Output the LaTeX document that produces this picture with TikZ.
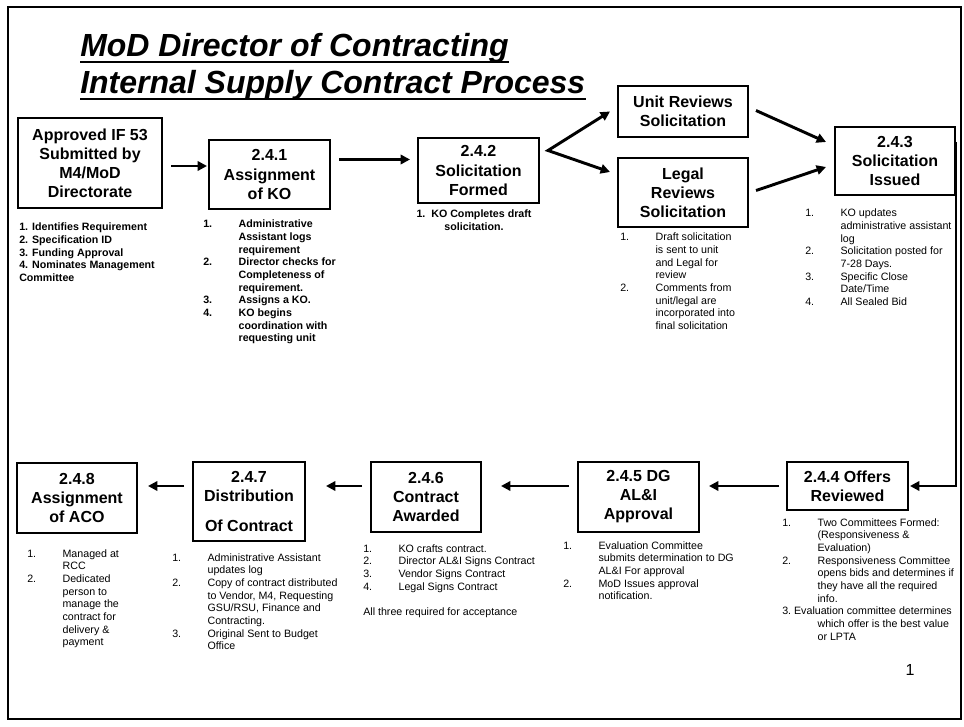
\documentclass[tikz,border=0pt]{standalone}
\usepackage{fontspec}
\setmainfont{Liberation Sans}
\usetikzlibrary{positioning,arrows.meta,calc}
\newenvironment{steplist}{\begin{tabular}[t]{@{}p{26.5pt}@{}l@{}}}{\end{tabular}}
\tikzset{
  boxsize/.style 2 args={minimum width=#1*0.75pt, minimum height=#2*0.75pt},
  stepbox/.style={
    draw, line width=1.5pt, fill=white, align=center, inner sep=0pt,
    font=\fontsize{12}{14.3}\selectfont\bfseries
  },
  lst/.style={anchor=base west, inner sep=0pt, font=\fontsize{8}{9.5}\selectfont},
  lstb/.style={lst, font=\fontsize{8}{9.5}\selectfont\bfseries},
  titletext/.style={anchor=base west, inner sep=0pt, font=\fontsize{24}{30}\selectfont\bfseries\itshape},
  ar/.style={-{Triangle[length=7pt,width=7pt]}, line width=2.2pt},
  twin/.style={ar, {Triangle[length=7pt,width=7pt]}-{Triangle[length=7pt,width=7pt]}},
  slideframe/.style={line width=1.5pt},
}

\begin{document}
\begin{tikzpicture}[x=0.75pt, y=-0.75pt]

  \fill[white] (0,0) rectangle (964,727);
  \useasboundingbox (0,0) rectangle (964,727);
  \draw[slideframe] (8,7) rectangle (961,719);

  % ===== title =====
  \node[titletext] (title1) at (80,57) {MoD Director of Contracting};
  \node[titletext] (title2) at (80,94) {Internal Supply Contract Process};
  \draw[line width=2pt] ($(title1.base west)+(0,5)$) -- ($(title1.base east)+(0,5)$);
  \draw[line width=2pt] ($(title2.base west)+(0,5)$) -- ($(title2.base east)+(0,5)$);

  % ===== top row =====
  \node[stepbox, boxsize={144}{90}] (approved) at (90,163) {Approved IF 53\\Submitted by\\M4/MoD\\Directorate};
  \node[stepbox, boxsize={121}{69}] (ko) at (269.5,174.5) {2.4.1\\Assignment\\of KO};
  \node[stepbox, boxsize={121}{65}] (formed) at (478.5,170.5) {2.4.2\\Solicitation\\Formed};
  \node[stepbox, boxsize={130}{51}] (unit) at (683,111.5) {Unit Reviews\\Solicitation};
  \node[stepbox, boxsize={130}{69}] (legal) at (683,192.5) {Legal\\Reviews\\Solicitation};
  \node[stepbox, boxsize={120}{68}] (issued) at (895,161) {2.4.3\\Solicitation\\Issued};

  % ===== bottom row, right to left =====
  \node[stepbox, boxsize={121}{48}] (offers) at (847.5,486) {2.4.4 Offers\\Reviewed};
  \node[stepbox, boxsize={121}{70}] (dg) at (638.5,497) {2.4.5 DG\\AL\&I\\Approval};
  \node[stepbox, boxsize={110}{70}] (awarded) at (426,497) {2.4.6\\Contract\\Awarded};
  \node[stepbox, boxsize={112}{79}] (distrib) at (249,501.5) {2.4.7\\Distribution\\[8pt]Of Contract};
  \node[stepbox, boxsize={120}{70}] (aco) at (77,498) {2.4.8\\Assignment\\of ACO};

  % ===== notes under the boxes =====
  \node[lstb] (approvednotes) at (19,231) {\begin{tabular}[t]{@{}l@{}}
    1. Identifies Requirement\\
    2. Specification ID\\
    3. Funding Approval\\
    4. Nominates Management\\
    Committee
  \end{tabular}};
  \node[lstb] (konotes) at (203,228) {\begin{steplist}
    1. & Administrative\\ & Assistant logs\\ & requirement\\
    2. & Director checks for\\ & Completeness of\\ & requirement.\\
    3. & Assigns a KO.\\
    4. & KO begins\\ & coordination with\\ & requesting unit
  \end{steplist}};
  \node[lstb, anchor=base] (formednotes) at (474,218) {\begin{tabular}[t]{@{}c@{}}
    1.\ \ KO Completes draft\\ solicitation.
  \end{tabular}};
  \node[lst] (legalnotes) at (620,241) {\begin{steplist}
    1. & Draft solicitation\\ & is sent to unit\\ & and Legal for\\ & review\\
    2. & Comments from\\ & unit/legal are\\ & incorporated into\\ & final solicitation
  \end{steplist}};
  \node[lst] (issuednotes) at (805,217) {\begin{steplist}
    1. & KO updates\\ & administrative assistant\\ & log\\
    2. & Solicitation posted for\\ & 7-28 Days.\\
    3. & Specific Close\\ & Date/Time\\
    4. & All Sealed Bid
  \end{steplist}};
  \node[lst] (offersnotes) at (782,526) {\begin{steplist}
    1. & Two Committees Formed:\\ & (Responsiveness \&\\ & Evaluation)\\
    2. & Responsiveness Committee\\ & opens bids and determines if\\ & they have all the required\\ & info.\\
    \multicolumn{2}{@{}l@{}}{3.\ Evaluation committee determines}\\ & which offer is the best value\\ & or LPTA
  \end{steplist}};
  \node[lst] (dgnotes) at (563,549) {\begin{steplist}
    1. & Evaluation Committee\\ & submits determination to DG\\ & AL\&I For approval\\
    2. & MoD Issues approval\\ & notification.
  \end{steplist}};
  \node[lst] (awardednotes) at (363,552) {\begin{steplist}
    1. & KO crafts contract.\\
    2. & Director AL\&I Signs Contract\\
    3. & Vendor Signs Contract\\
    4. & Legal Signs Contract\\[9.5pt]
    \multicolumn{2}{@{}l@{}}{All three required for acceptance}
  \end{steplist}};
  \node[lst] (distribnotes) at (172,561) {\begin{steplist}
    1. & Administrative Assistant\\ & updates log\\
    2. & Copy of contract distributed\\ & to Vendor, M4, Requesting\\ & GSU/RSU, Finance and\\ & Contracting.\\
    3. & Original Sent to Budget\\ & Office
  \end{steplist}};
  \node[lst] (aconotes) at (27,557) {\begin{steplist}
    1. & Managed at\\ & RCC\\
    2. & Dedicated\\ & person to\\ & manage the\\ & contract for\\ & delivery \&\\ & payment
  \end{steplist}};

  \node[inner sep=0pt, font=\fontsize{12}{14}\selectfont] (pagenum) at (910,670) {1};

  % ===== connectors =====
  \draw[ar] ($(approved.east)+(8,3)$) -- ($(approved.east -| ko.west)+(-1,3)$);
  \draw[ar] ($(ko.east)+(8,-15)$) -- ($(ko.east -| formed.west)+(-7,-15)$);
  \coordinate (fork) at ($(formed.east)+(8,-20)$);
  \draw[twin] ($(unit.west)+(-7,0)$) -- (fork) -- ($(legal.north west)+(-7,15)$);
  \draw[ar] ($(unit.east)+(7,-1)$) -- ($(issued.west)+(-8,-19)$);
  \draw[ar] ($(legal.east)+(7,-2)$) -- ($(issued.west)+(-8,6)$);

  % down the right side to the offers
  \draw[ar] ($(issued.east)+(0,-19)$) -- (issued.east |- offers.east) -- ($(offers.east)+(1,0)$);

  \draw[ar] ($(offers.west)+(-7,0)$) -- ($(offers.west -| dg.east)+(9,0)$);
  \draw[ar] ($(offers.west -| dg.west)+(-8,0)$) -- ($(offers.west -| awarded.east)+(19,0)$);
  \draw[ar] ($(offers.west -| awarded.west)+(-8,0)$) -- ($(offers.west -| distrib.east)+(20,0)$);
  \draw[ar] ($(offers.west -| distrib.west)+(-8,0)$) -- ($(offers.west -| aco.east)+(10,0)$);

\end{tikzpicture}
\end{document}
